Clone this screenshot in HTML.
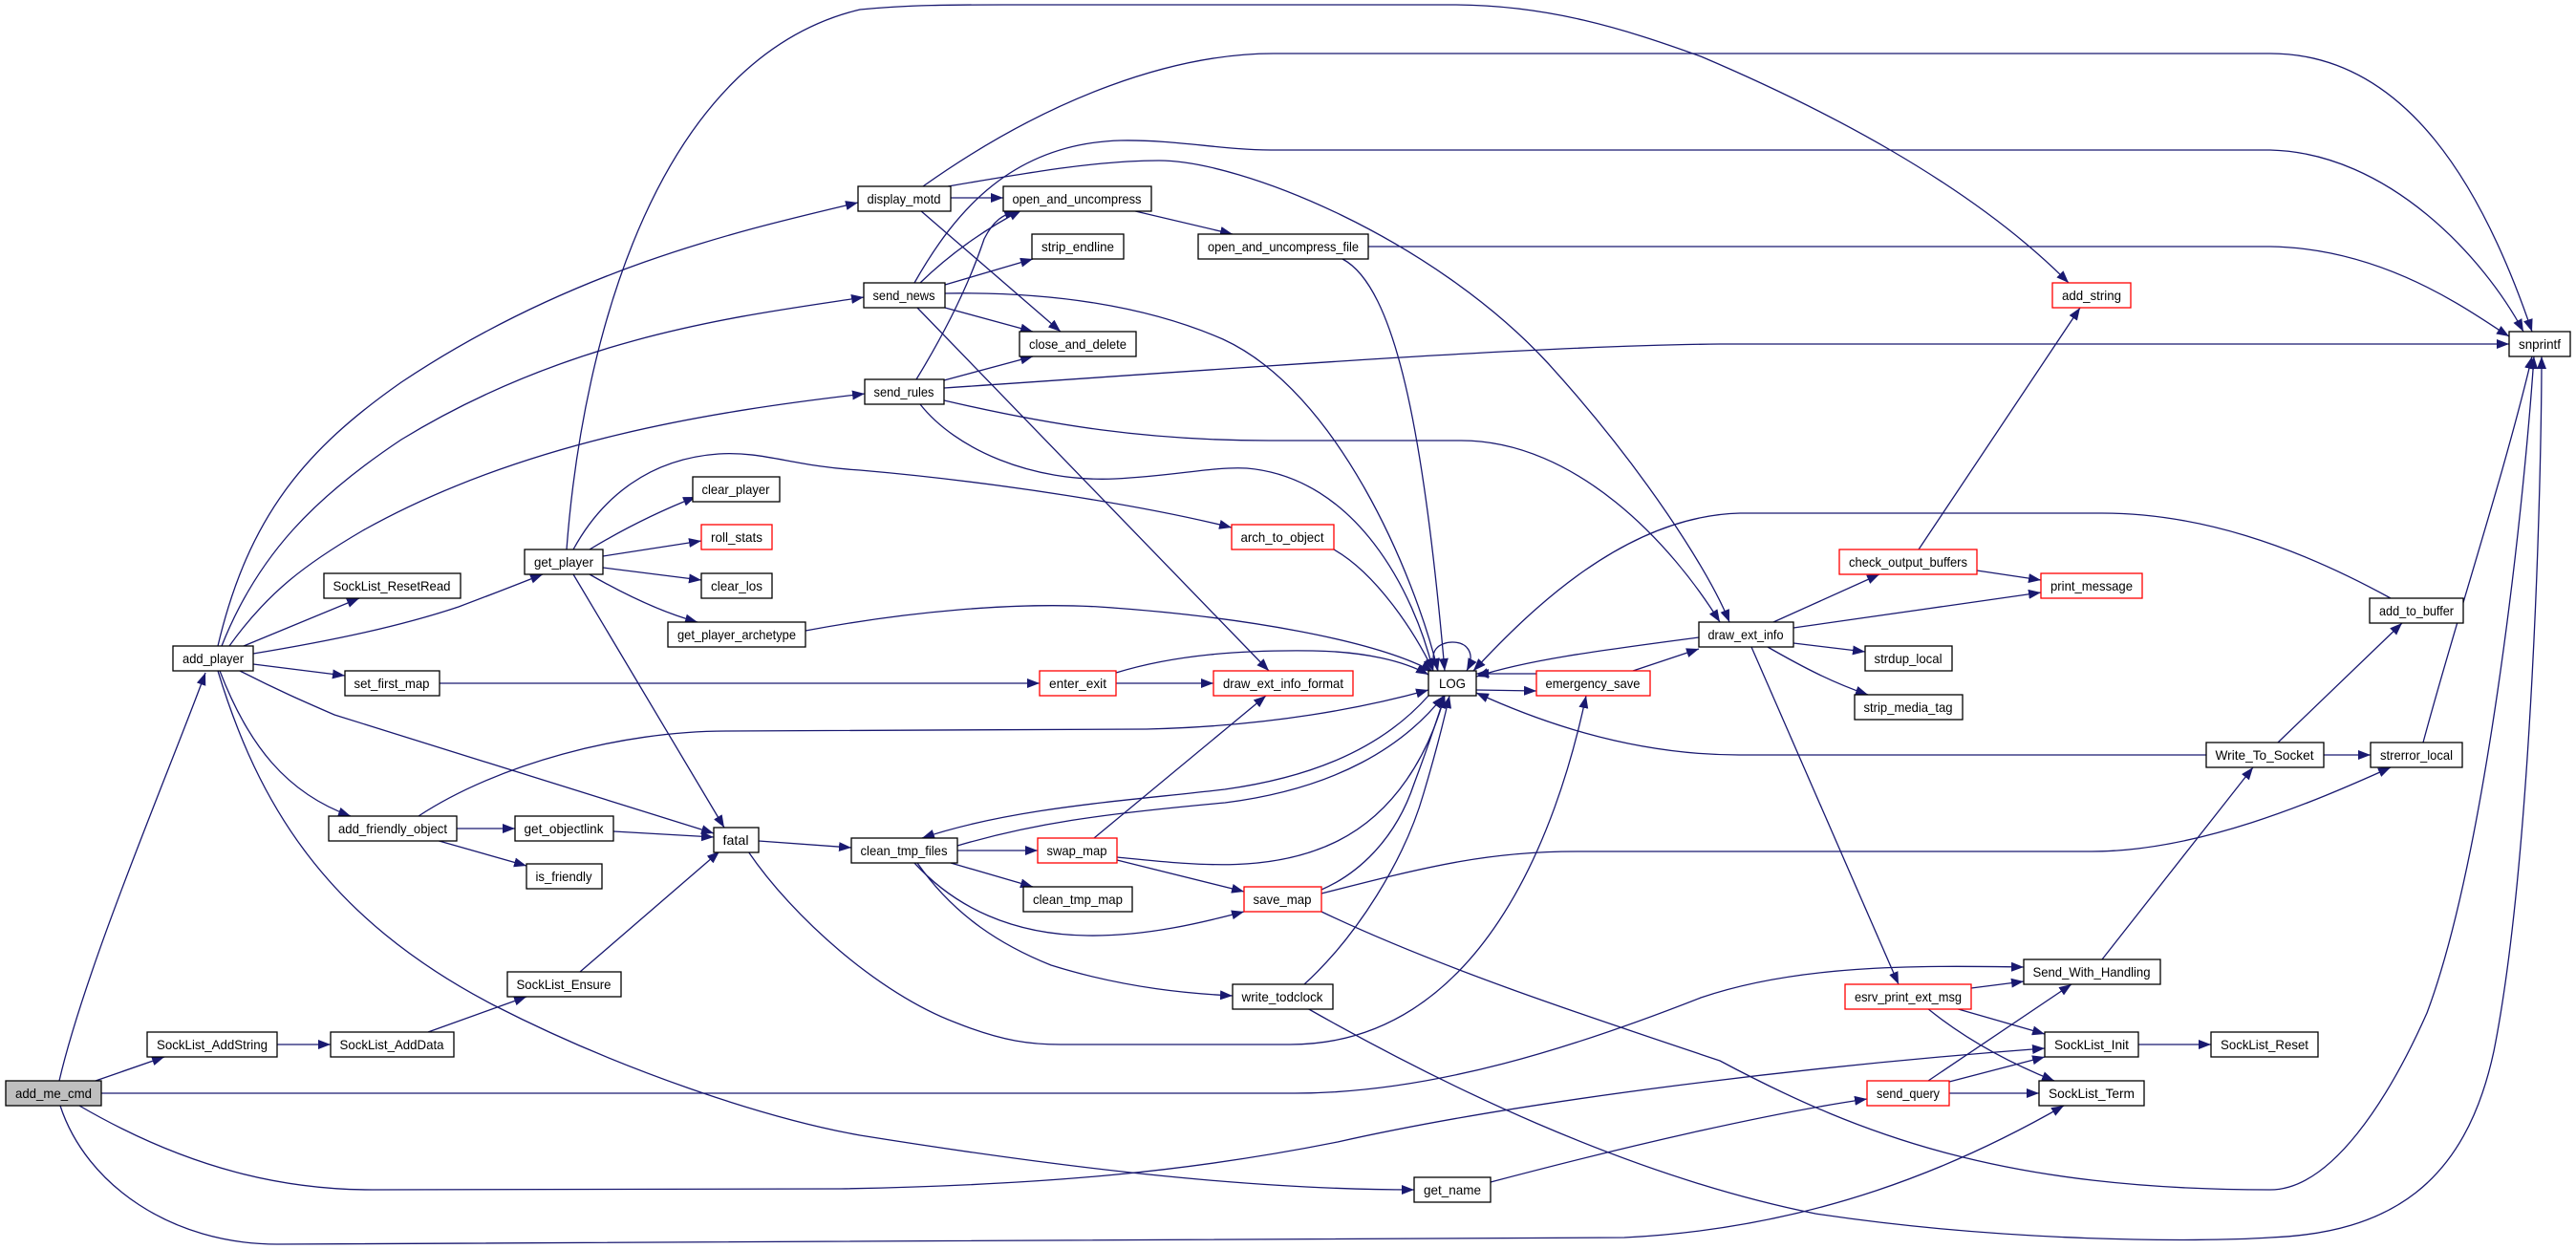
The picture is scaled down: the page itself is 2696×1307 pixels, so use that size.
<!DOCTYPE html>
<html><head><meta charset="utf-8"><style>
html,body{margin:0;padding:0;background:#fff;}
svg{display:block;}
text{font-family:"Liberation Sans",sans-serif;font-size:14px;fill:#000;}
</style></head><body>
<svg width="2696" height="1307" viewBox="0 0 2696 1307" xmlns="http://www.w3.org/2000/svg">
<defs><marker id="a" markerUnits="userSpaceOnUse" markerWidth="14" markerHeight="10" refX="13" refY="5" orient="auto"><path d="M0,0 L13,5 L0,10 Z" fill="#191970"/></marker></defs>
<g fill="none" stroke="#191970" stroke-width="1.3" marker-end="url(#a)">
<path d="M62,1131 C90,1010 180,800 215,704"/>
<path d="M100,1131 L172,1106"/>
<path d="M106,1144 L1355,1144 C1500,1144 1650,1095 1780,1044 C1880,1010 2000,1010 2118,1012"/>
<path d="M83,1157 C200,1225 300,1245 390,1245 L880,1244 C1100,1240 1250,1225 1400,1195 C1600,1150 1900,1115 2140,1097"/>
<path d="M63,1157 C90,1240 180,1302 290,1302 L1700,1295 C1900,1285 2050,1220 2160,1157"/>
<path d="M228,676 C260,540 320,470 420,400 C600,280 780,240 898,212"/>
<path d="M232,676 C270,580 330,520 420,460 C600,350 780,330 904,311"/>
<path d="M240,676 C280,620 320,590 380,555 C550,460 750,430 905,412"/>
<path d="M255,676 L376,626"/>
<path d="M265,684 C350,670 420,655 480,635 C520,620 545,610 568,601"/>
<path d="M265,695 L361,707"/>
<path d="M251,702 C290,722 320,735 350,748 L747,872"/>
<path d="M230,702 C260,780 300,830 367,854"/>
<path d="M228,702 C270,840 340,960 517,1052 C650,1120 800,1170 900,1188 C1100,1220 1300,1245 1480,1245"/>
<path d="M290,1093 L346,1093"/>
<path d="M448,1080 L551,1043"/>
<path d="M607,1017 L753,891"/>
<path d="M593,575 C610,350 690,60 900,10 C950,5 1000,5 1050,5 L1520,5 C1620,5 1700,30 1780,59 C1900,110 2060,190 2165,296"/>
<path d="M617,575 C650,555 690,535 728,520"/>
<path d="M631,582 L734,566"/>
<path d="M631,594 L734,607"/>
<path d="M617,601 C650,620 690,640 730,651"/>
<path d="M600,601 L758,866"/>
<path d="M600,575 C630,520 680,480 752,475 C800,472 830,488 900,492 C1050,505 1200,530 1289,552"/>
<path d="M843,660 C950,640 1060,630 1150,635 C1300,645 1440,670 1500,703"/>
<path d="M460,715 L1088,715"/>
<path d="M478,867 L539,867"/>
<path d="M456,879 L551,906"/>
<path d="M438,854 C520,800 650,765 760,765 L1200,763 C1330,760 1430,740 1495,722"/>
<path d="M642,870 L747,876"/>
<path d="M794,880 L891,887"/>
<path d="M783,891 C830,960 920,1040 1000,1070 C1050,1090 1080,1093 1110,1093 L1350,1093 C1550,1093 1630,870 1660,728"/>
<path d="M995,207 L1050,207"/>
<path d="M963,220 L1110,347"/>
<path d="M966,195 C1100,100 1230,56 1333,56 L2376,56 C2520,56 2600,200 2650,347"/>
<path d="M992,195 C1080,180 1150,168 1213,168 C1300,168 1500,250 1620,380 C1720,490 1790,600 1810,651"/>
<path d="M963,296 C1000,260 1040,235 1069,220"/>
<path d="M989,298 L1081,271"/>
<path d="M989,322 L1081,347"/>
<path d="M989,307 C1100,305 1200,320 1280,355 C1400,410 1480,600 1505,702"/>
<path d="M960,322 L1328,702"/>
<path d="M957,296 C1000,220 1060,150 1173,147 C1230,146 1280,157 1330,157 L2376,157 C2500,160 2600,270 2641,347"/>
<path d="M988,398 L1081,373"/>
<path d="M988,406 C1300,385 1600,362 1800,360 L2626,360"/>
<path d="M959,397 C1000,330 1020,280 1030,250 C1040,230 1050,225 1064,220"/>
<path d="M963,423 C1000,470 1080,505 1167,501 C1230,498 1270,488 1305,490 C1420,500 1480,620 1500,702"/>
<path d="M988,419 C1100,445 1200,461 1328,461 L1529,461 C1650,461 1750,570 1800,651"/>
<path d="M1184,220 L1290,245"/>
<path d="M1432,258 L2376,258 C2500,260 2590,330 2626,352"/>
<path d="M1405,271 C1460,300 1490,450 1512,702"/>
<path d="M1396,575 C1440,600 1480,660 1500,702"/>
<path d="M1168,715 L1270,715"/>
<path d="M1168,704 C1230,685 1300,680 1374,681 C1430,682 1470,692 1495,706"/>
<path d="M1505,702 C1492,680 1508,672 1520,672 C1535,672 1545,683 1535,702"/>
<path d="M1545,722 L1608,723"/>
<path d="M1608,705 L1545,705"/>
<path d="M1709,702 L1778,679"/>
<path d="M1778,667 C1680,680 1600,690 1545,708"/>
<path d="M2502,626 C2400,570 2300,537 2200,537 L1821,537 C1700,540 1600,640 1542,702"/>
<path d="M2309,790 L1820,790 C1700,790 1600,750 1545,725"/>
<path d="M1002,890 L1086,890"/>
<path d="M995,903 L1081,928"/>
<path d="M957,903 C1000,950 1060,978 1138,979 C1200,980 1260,965 1302,954"/>
<path d="M960,903 C1000,960 1050,990 1100,1010 C1180,1035 1250,1040 1290,1042"/>
<path d="M1002,885 C1080,862 1150,852 1282,840 C1400,825 1470,780 1511,728"/>
<path d="M1495,728 C1440,790 1360,815 1282,826 C1180,838 1060,845 965,877"/>
<path d="M1145,877 L1325,728"/>
<path d="M1169,897 C1250,905 1330,915 1400,880 C1460,850 1495,790 1512,728"/>
<path d="M1169,900 L1302,933"/>
<path d="M1383,931 C1420,915 1460,880 1480,820 C1495,780 1505,750 1512,728"/>
<path d="M1383,935 C1500,905 1560,891 1650,891 L2189,891 C2300,891 2420,840 2502,803"/>
<path d="M1383,954 C1500,1010 1650,1060 1800,1110 C1950,1190 2100,1245 2376,1245 C2440,1245 2500,1150 2540,1060 C2600,900 2640,550 2652,373"/>
<path d="M1365,1030 C1420,980 1470,900 1490,830 C1505,780 1512,750 1517,728"/>
<path d="M1368,1055 C1500,1130 1700,1230 1900,1270 C2100,1300 2300,1300 2376,1295 C2500,1290 2580,1240 2610,1100 C2650,900 2660,500 2660,373"/>
<path d="M1560,1237 C1700,1200 1850,1165 1954,1150"/>
<path d="M1856,651 L1967,601"/>
<path d="M1877,657 L2136,620"/>
<path d="M1877,673 L1952,682"/>
<path d="M1850,677 C1890,700 1920,715 1955,727"/>
<path d="M1833,677 L1987,1030"/>
<path d="M2008,575 L2177,322"/>
<path d="M2069,597 L2136,607"/>
<path d="M2384,777 L2514,652"/>
<path d="M2432,790 L2481,790"/>
<path d="M2536,777 C2570,650 2620,500 2650,373"/>
<path d="M2200,1004 L2358,803"/>
<path d="M2063,1034 L2118,1027"/>
<path d="M2046,1055 L2140,1082"/>
<path d="M2017,1055 C2060,1090 2110,1115 2150,1131"/>
<path d="M2018,1131 L2168,1030"/>
<path d="M2040,1132 L2140,1106"/>
<path d="M2040,1144 L2134,1144"/>
<path d="M2238,1093 L2314,1093"/>
</g>
<g stroke-width="1.3">
<rect x="6" y="1131" width="100" height="26" fill="#bfbfbf" stroke="#000"/><text x="56" y="1149" text-anchor="middle" textLength="80" lengthAdjust="spacingAndGlyphs">add_me_cmd</text>
<rect x="181" y="676" width="84" height="26" fill="#fff" stroke="#000"/><text x="223" y="694" text-anchor="middle" textLength="64" lengthAdjust="spacingAndGlyphs">add_player</text>
<rect x="154" y="1080" width="136" height="26" fill="#fff" stroke="#000"/><text x="222" y="1098" text-anchor="middle" textLength="116" lengthAdjust="spacingAndGlyphs">SockList_AddString</text>
<rect x="346" y="1080" width="129" height="26" fill="#fff" stroke="#000"/><text x="410" y="1098" text-anchor="middle" textLength="109" lengthAdjust="spacingAndGlyphs">SockList_AddData</text>
<rect x="531" y="1017" width="119" height="26" fill="#fff" stroke="#000"/><text x="590" y="1035" text-anchor="middle" textLength="99" lengthAdjust="spacingAndGlyphs">SockList_Ensure</text>
<rect x="898" y="195" width="97" height="26" fill="#fff" stroke="#000"/><text x="946" y="213" text-anchor="middle" textLength="77" lengthAdjust="spacingAndGlyphs">display_motd</text>
<rect x="904" y="296" width="85" height="26" fill="#fff" stroke="#000"/><text x="946" y="314" text-anchor="middle" textLength="65" lengthAdjust="spacingAndGlyphs">send_news</text>
<rect x="905" y="397" width="83" height="26" fill="#fff" stroke="#000"/><text x="946" y="415" text-anchor="middle" textLength="63" lengthAdjust="spacingAndGlyphs">send_rules</text>
<rect x="339" y="600" width="143" height="26" fill="#fff" stroke="#000"/><text x="410" y="618" text-anchor="middle" textLength="123" lengthAdjust="spacingAndGlyphs">SockList_ResetRead</text>
<rect x="549" y="575" width="82" height="26" fill="#fff" stroke="#000"/><text x="590" y="593" text-anchor="middle" textLength="62" lengthAdjust="spacingAndGlyphs">get_player</text>
<rect x="361" y="702" width="99" height="26" fill="#fff" stroke="#000"/><text x="410" y="720" text-anchor="middle" textLength="79" lengthAdjust="spacingAndGlyphs">set_first_map</text>
<rect x="344" y="854" width="134" height="26" fill="#fff" stroke="#000"/><text x="411" y="872" text-anchor="middle" textLength="114" lengthAdjust="spacingAndGlyphs">add_friendly_object</text>
<rect x="539" y="854" width="103" height="26" fill="#fff" stroke="#000"/><text x="590" y="872" text-anchor="middle" textLength="83" lengthAdjust="spacingAndGlyphs">get_objectlink</text>
<rect x="551" y="904" width="79" height="26" fill="#fff" stroke="#000"/><text x="590" y="922" text-anchor="middle" textLength="59" lengthAdjust="spacingAndGlyphs">is_friendly</text>
<rect x="747" y="866" width="47" height="26" fill="#fff" stroke="#000"/><text x="770" y="884" text-anchor="middle" textLength="27" lengthAdjust="spacingAndGlyphs">fatal</text>
<rect x="725" y="499" width="91" height="26" fill="#fff" stroke="#000"/><text x="770" y="517" text-anchor="middle" textLength="71" lengthAdjust="spacingAndGlyphs">clear_player</text>
<rect x="734" y="549" width="74" height="26" fill="#fff" stroke="#f00"/><text x="771" y="567" text-anchor="middle" textLength="54" lengthAdjust="spacingAndGlyphs">roll_stats</text>
<rect x="734" y="600" width="74" height="26" fill="#fff" stroke="#000"/><text x="771" y="618" text-anchor="middle" textLength="54" lengthAdjust="spacingAndGlyphs">clear_los</text>
<rect x="699" y="651" width="144" height="26" fill="#fff" stroke="#000"/><text x="771" y="669" text-anchor="middle" textLength="124" lengthAdjust="spacingAndGlyphs">get_player_archetype</text>
<rect x="1050" y="195" width="155" height="26" fill="#fff" stroke="#000"/><text x="1127" y="213" text-anchor="middle" textLength="135" lengthAdjust="spacingAndGlyphs">open_and_uncompress</text>
<rect x="1080" y="245" width="96" height="26" fill="#fff" stroke="#000"/><text x="1128" y="263" text-anchor="middle" textLength="76" lengthAdjust="spacingAndGlyphs">strip_endline</text>
<rect x="1067" y="347" width="122" height="26" fill="#fff" stroke="#000"/><text x="1128" y="365" text-anchor="middle" textLength="102" lengthAdjust="spacingAndGlyphs">close_and_delete</text>
<rect x="1254" y="245" width="178" height="26" fill="#fff" stroke="#000"/><text x="1343" y="263" text-anchor="middle" textLength="158" lengthAdjust="spacingAndGlyphs">open_and_uncompress_file</text>
<rect x="1289" y="549" width="107" height="26" fill="#fff" stroke="#f00"/><text x="1342" y="567" text-anchor="middle" textLength="87" lengthAdjust="spacingAndGlyphs">arch_to_object</text>
<rect x="1088" y="702" width="80" height="26" fill="#fff" stroke="#f00"/><text x="1128" y="720" text-anchor="middle" textLength="60" lengthAdjust="spacingAndGlyphs">enter_exit</text>
<rect x="1270" y="702" width="146" height="26" fill="#fff" stroke="#f00"/><text x="1343" y="720" text-anchor="middle" textLength="126" lengthAdjust="spacingAndGlyphs">draw_ext_info_format</text>
<rect x="1495" y="702" width="50" height="26" fill="#fff" stroke="#000"/><text x="1520" y="720" text-anchor="middle" textLength="28" lengthAdjust="spacingAndGlyphs">LOG</text>
<rect x="1608" y="702" width="119" height="26" fill="#fff" stroke="#f00"/><text x="1667" y="720" text-anchor="middle" textLength="99" lengthAdjust="spacingAndGlyphs">emergency_save</text>
<rect x="891" y="877" width="111" height="26" fill="#fff" stroke="#000"/><text x="946" y="895" text-anchor="middle" textLength="91" lengthAdjust="spacingAndGlyphs">clean_tmp_files</text>
<rect x="1086" y="877" width="83" height="26" fill="#fff" stroke="#f00"/><text x="1127" y="895" text-anchor="middle" textLength="63" lengthAdjust="spacingAndGlyphs">swap_map</text>
<rect x="1071" y="928" width="114" height="26" fill="#fff" stroke="#000"/><text x="1128" y="946" text-anchor="middle" textLength="94" lengthAdjust="spacingAndGlyphs">clean_tmp_map</text>
<rect x="1302" y="928" width="81" height="26" fill="#fff" stroke="#f00"/><text x="1342" y="946" text-anchor="middle" textLength="61" lengthAdjust="spacingAndGlyphs">save_map</text>
<rect x="1290" y="1030" width="105" height="26" fill="#fff" stroke="#000"/><text x="1342" y="1048" text-anchor="middle" textLength="85" lengthAdjust="spacingAndGlyphs">write_todclock</text>
<rect x="1480" y="1232" width="80" height="26" fill="#fff" stroke="#000"/><text x="1520" y="1250" text-anchor="middle" textLength="60" lengthAdjust="spacingAndGlyphs">get_name</text>
<rect x="2148" y="296" width="82" height="26" fill="#fff" stroke="#f00"/><text x="2189" y="314" text-anchor="middle" textLength="62" lengthAdjust="spacingAndGlyphs">add_string</text>
<rect x="2626" y="347" width="64" height="26" fill="#fff" stroke="#000"/><text x="2658" y="365" text-anchor="middle" textLength="44" lengthAdjust="spacingAndGlyphs">snprintf</text>
<rect x="1925" y="575" width="144" height="26" fill="#fff" stroke="#f00"/><text x="1997" y="593" text-anchor="middle" textLength="124" lengthAdjust="spacingAndGlyphs">check_output_buffers</text>
<rect x="2136" y="600" width="106" height="26" fill="#fff" stroke="#f00"/><text x="2189" y="618" text-anchor="middle" textLength="86" lengthAdjust="spacingAndGlyphs">print_message</text>
<rect x="2480" y="626" width="98" height="26" fill="#fff" stroke="#000"/><text x="2529" y="644" text-anchor="middle" textLength="78" lengthAdjust="spacingAndGlyphs">add_to_buffer</text>
<rect x="1778" y="651" width="99" height="26" fill="#fff" stroke="#000"/><text x="1827" y="669" text-anchor="middle" textLength="79" lengthAdjust="spacingAndGlyphs">draw_ext_info</text>
<rect x="1952" y="676" width="91" height="26" fill="#fff" stroke="#000"/><text x="1997" y="694" text-anchor="middle" textLength="71" lengthAdjust="spacingAndGlyphs">strdup_local</text>
<rect x="1941" y="727" width="113" height="26" fill="#fff" stroke="#000"/><text x="1997" y="745" text-anchor="middle" textLength="93" lengthAdjust="spacingAndGlyphs">strip_media_tag</text>
<rect x="2309" y="777" width="123" height="26" fill="#fff" stroke="#000"/><text x="2370" y="795" text-anchor="middle" textLength="103" lengthAdjust="spacingAndGlyphs">Write_To_Socket</text>
<rect x="2481" y="777" width="96" height="26" fill="#fff" stroke="#000"/><text x="2529" y="795" text-anchor="middle" textLength="76" lengthAdjust="spacingAndGlyphs">strerror_local</text>
<rect x="2118" y="1004" width="143" height="26" fill="#fff" stroke="#000"/><text x="2189" y="1022" text-anchor="middle" textLength="123" lengthAdjust="spacingAndGlyphs">Send_With_Handling</text>
<rect x="1931" y="1030" width="132" height="26" fill="#fff" stroke="#f00"/><text x="1997" y="1048" text-anchor="middle" textLength="112" lengthAdjust="spacingAndGlyphs">esrv_print_ext_msg</text>
<rect x="2140" y="1080" width="98" height="26" fill="#fff" stroke="#000"/><text x="2189" y="1098" text-anchor="middle" textLength="78" lengthAdjust="spacingAndGlyphs">SockList_Init</text>
<rect x="2314" y="1080" width="112" height="26" fill="#fff" stroke="#000"/><text x="2370" y="1098" text-anchor="middle" textLength="92" lengthAdjust="spacingAndGlyphs">SockList_Reset</text>
<rect x="1954" y="1131" width="86" height="26" fill="#fff" stroke="#f00"/><text x="1997" y="1149" text-anchor="middle" textLength="66" lengthAdjust="spacingAndGlyphs">send_query</text>
<rect x="2134" y="1131" width="110" height="26" fill="#fff" stroke="#000"/><text x="2189" y="1149" text-anchor="middle" textLength="90" lengthAdjust="spacingAndGlyphs">SockList_Term</text>
</g>
</svg>
</body></html>
